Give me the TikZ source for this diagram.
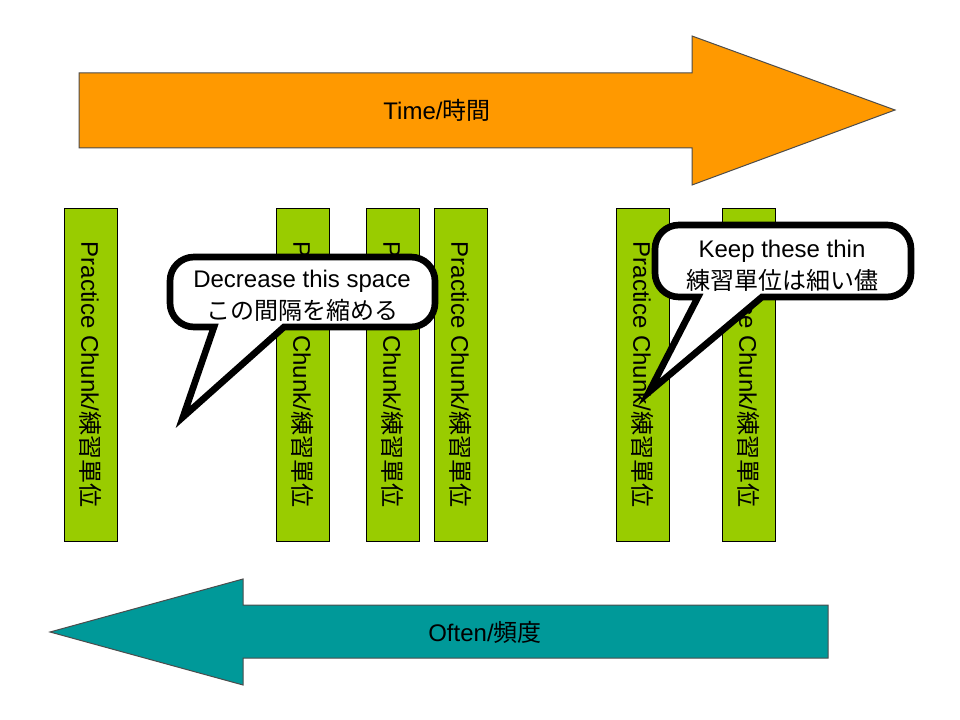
\documentclass[tikz,border=0pt]{standalone}
\usepackage{fontspec}
\setmainfont{Liberation Sans}
\newfontfamily\cjk{Noto Sans CJK JP}
\usetikzlibrary{positioning}

\definecolor{timeorange}{HTML}{FF9900}
\definecolor{oftenteal}{HTML}{009999}
\definecolor{chunkgreen}{HTML}{99CC00}

\tikzset{
    chunk/.style={draw=black, fill=chunkgreen, rotate=-90, minimum width=249.75pt,
        minimum height=39.75pt, inner sep=0pt, font=\fontsize{18}{22}\selectfont},
    bigarrow/.style={draw=black!70, line width=0.75pt},
    bubble/.style={draw=black, fill=white, line width=5pt, line join=miter},
    bubbletext/.style={align=center, font=\fontsize{18}{24}\selectfont, inner sep=0pt}
}

\begin{document}
\begin{tikzpicture}[x=0.75pt, y=-0.75pt]
    \useasboundingbox (0,0) rectangle (960,720);

    % Time arrow
    \filldraw[bigarrow, fill=timeorange] (79,73) -- (692,73) -- (692,36) -- (895,110)
        -- (692,185) -- (692,148) -- (79,148) -- cycle;
    \node[font=\fontsize{18}{22}\selectfont] (time) at (437,110) {Time/{\cjk 時間}};

    % Often arrow
    \filldraw[bigarrow, fill=oftenteal] (828,605) -- (243,605) -- (243,579) -- (50,632)
        -- (243,685) -- (243,658) -- (828,658) -- cycle;
    \node[font=\fontsize{18}{22}\selectfont] (often) at (485,632) {Often/{\cjk 頻度}};

    % Practice chunks
    \foreach \x [count=\i] in {90.5, 302.5, 392.5, 460.5, 642.5, 748.5} {
        \node[chunk] (chunk\i) at (\x,374.5) {Practice Chunk/{\cjk 練習單位}};
    }

    % Callouts
    \draw[bubble] (214,327) -- (183,417) -- (284,327)
        [rounded corners=18pt] -- (435,327) -- (435,257) -- (170,257) -- (170,327)
        [sharp corners] -- cycle;
    \node[bubbletext] (space) at (302,296) {Decrease this space\\{\cjk この間隔を縮める}};

    \draw[bubble] (698,297) -- (649,392) -- (762,297)
        [rounded corners=18pt] -- (911,297) -- (911,225) -- (655,225) -- (655,297)
        [sharp corners] -- cycle;
    \node[bubbletext] (thin) at (782,266) {Keep these thin\\{\cjk 練習單位は細い儘}};
\end{tikzpicture}
\end{document}
